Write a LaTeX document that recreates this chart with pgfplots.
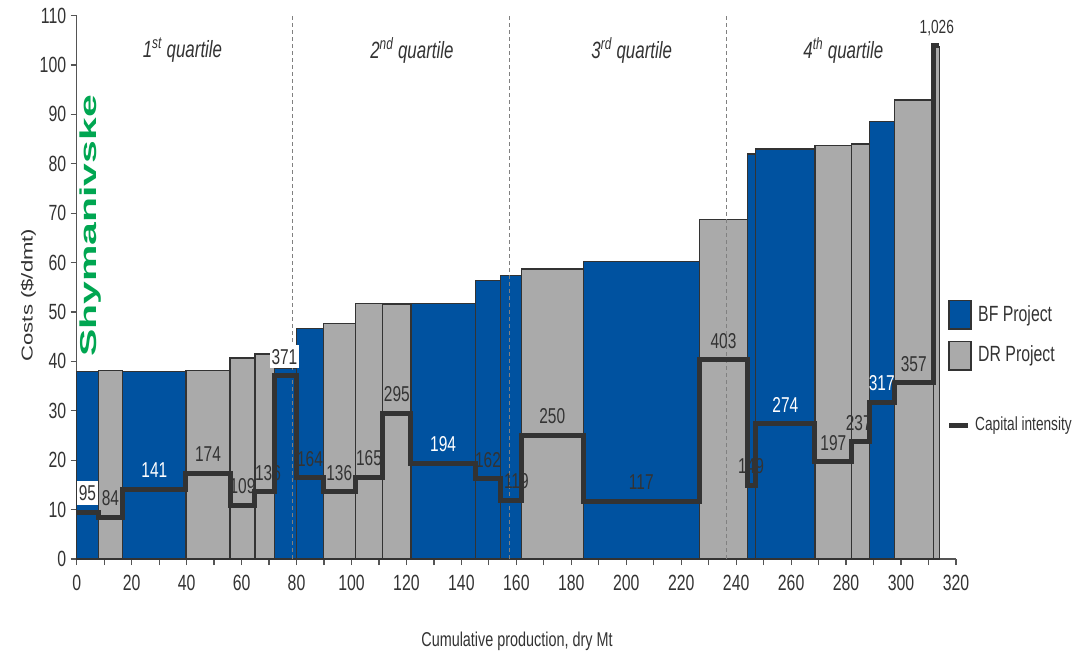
\documentclass[border=0pt]{standalone}
\usepackage{fontspec}
\setmainfont{Liberation Sans}[FakeStretch=0.72]
\newfontfamily\rotfont{Liberation Sans}[FakeStretch=1.4]
\newfontfamily\shymfont{Liberation Sans}[FakeStretch=1.78]
\usepackage{pgfplots}
\pgfplotsset{compat=1.18}

\definecolor{bfblue}{RGB}{0,82,160}
\definecolor{drgray}{RGB}{170,170,170}
\definecolor{edge}{RGB}{51,51,51}
\definecolor{txt}{RGB}{51,51,51}
\definecolor{axisgray}{RGB}{85,85,85}
\definecolor{shymgreen}{RGB}{0,166,81}

% one bar of the cost curve: [style]{x0}{x1}{cost}
\newcommand{\costbar}[4][bf]{\addplot[#1] coordinates {(#2,0) (#2,#4) (#3,#4) (#3,0)} -- cycle;}

\begin{document}
\begin{tikzpicture}
\useasboundingbox (0,0) rectangle (1075pt,656pt);

\begin{axis}[
  at={(76.7pt,97pt)}, anchor=south west,
  scale only axis, width=879.3pt, height=543.4pt,
  xmin=0, xmax=320, ymin=0, ymax=110,
  axis x line*=bottom, axis y line*=left,
  axis line style={draw=axisgray, line width=1.4pt, -},
  xtick={0,20,...,320}, minor xtick={10,30,...,310},
  ytick={0,10,...,110},
  tick align=outside, major tick length=6pt, minor tick length=6pt,
  every tick/.style={draw=axisgray, line width=1.2pt},
  every minor tick/.style={draw=axisgray, line width=1.2pt},
  /pgf/number format/assume math mode=true,
  tick label style={font=\fontsize{22}{22}\selectfont, text=txt},
  xticklabel style={yshift=-7pt},
  yticklabel style={xshift=-1pt},
  clip=false,
  bf/.style={fill=bfblue, draw=edge, line width=1.2pt},
  dr/.style={fill=drgray, draw=edge, line width=1.2pt},
]

% cost bars, x0 x1 cost
\costbar[bf]{0}{7.86}{37.9}
\costbar[dr]{7.86}{16.74}{38.2}
\costbar[bf]{16.74}{39.77}{38.0}
\costbar[dr]{39.77}{55.79}{38.2}
\costbar[dr]{55.79}{64.88}{40.7}
\costbar[dr]{64.88}{71.91}{41.5}
\costbar[bf]{71.91}{80.06}{38.5}
\costbar[bf]{80.06}{89.74}{46.6}
\costbar[dr]{89.74}{101.38}{47.6}
\costbar[dr]{101.38}{111.35}{51.7}
\costbar[dr]{111.35}{121.65}{51.6}
\costbar[bf]{121.65}{145.05}{51.8}
\costbar[bf]{145.05}{154.29}{56.3}
\costbar[bf]{154.29}{161.79}{57.4}
\costbar[dr]{161.79}{184.35}{58.7}
\costbar[bf]{184.35}{226.56}{60.2}
\costbar[dr]{226.56}{244.18}{68.7}
\costbar[bf]{244.18}{247.09}{82.0}
\costbar[bf]{247.09}{268.67}{83.0}
\costbar[dr]{268.67}{282.02}{83.7}
\costbar[dr]{282.02}{288.43}{84.0}
\costbar[bf]{288.43}{297.53}{88.5}
\costbar[dr]{297.53}{311.72}{92.9}
\costbar[dr]{311.72}{313.9}{103.8}

% quartile dividers
\addplot[draw=gray, line width=0.7pt, dash pattern=on 4pt off 3pt] coordinates {(78.6,0) (78.6,110)};
\addplot[draw=gray, line width=0.7pt, dash pattern=on 4pt off 3pt] coordinates {(157.5,0) (157.5,110)};
\addplot[draw=gray, line width=0.7pt, dash pattern=on 4pt off 3pt] coordinates {(236.6,0) (236.6,110)};

% capital intensity (per 10), step line
\addplot[const plot, draw=edge, line width=5pt, line join=miter] table {
x ci
0 9.5
7.86 8.4
16.74 14.1
39.77 17.4
55.79 10.9
64.88 13.6
71.91 37.1
80.06 16.4
89.74 13.6
101.38 16.5
111.35 29.5
121.65 19.4
145.05 16.2
154.29 11.9
161.79 25.0
184.35 11.7
226.56 40.3
244.18 14.9
247.09 27.4
268.67 19.7
282.02 23.7
288.43 31.7
297.53 35.7
311.72 104
313.9 104
};

% labels, dark
\addplot[draw=none, mark=none, nodes near coords, point meta=explicit symbolic,
  nodes near coords style={anchor=center, yshift=19pt, text=txt, font=\fontsize{21.5}{21.5}\selectfont, inner sep=1pt}]
  table[meta=lab] {
x y lab
12.30 8.4 84
47.78 17.4 174
60.34 10.9 109
69.6 13.6 136
84.9 16.4 164
95.56 13.6 136
106.37 16.5 165
116.5 29.5 295
149.67 16.2 162
160.0 11.9 119
173.07 25.0 250
205.46 11.7 117
235.37 40.3 403
245.4 14.9 149
275.35 19.7 197
284.6 23.7 237
304.63 35.7 357
};
% labels, white on blue
\addplot[draw=none, mark=none, nodes near coords, point meta=explicit symbolic,
  nodes near coords style={anchor=center, yshift=19pt, text=white, font=\fontsize{21.5}{21.5}\selectfont, inner sep=1pt}]
  table[meta=lab] {
x y lab
28.26 14.1 141
133.35 19.4 194
257.88 27.4 274
292.98 31.7 317
};
% labels in white boxes
\addplot[draw=none, mark=none, nodes near coords, point meta=explicit symbolic,
  nodes near coords style={anchor=center, yshift=19pt, text=txt, fill=white, font=\fontsize{21.5}{21.5}\selectfont, inner xsep=2pt, inner ysep=4pt}]
  table[meta=lab] {
x y lab
3.93 9.5 95
75.6 37.1 371
};
\addplot[draw=none, mark=none, nodes near coords, point meta=explicit symbolic,
  nodes near coords style={anchor=center, yshift=17pt, text=txt, font=\fontsize{19}{19}\selectfont, inner sep=1pt}]
  table[meta=lab] {
x y lab
313.0 104 1,026
};

\node[font=\itshape\fontsize{23.5}{23.5}\selectfont, text=txt] at (axis cs:38.5,103) {1\textsuperscript{st} quartile};
\node[font=\itshape\fontsize{23.5}{23.5}\selectfont, text=txt] at (axis cs:122,103) {2\textsuperscript{nd} quartile};
\node[font=\itshape\fontsize{23.5}{23.5}\selectfont, text=txt] at (axis cs:202,103) {3\textsuperscript{rd} quartile};
\node[font=\itshape\fontsize{23.5}{23.5}\selectfont, text=txt] at (axis cs:279,103) {4\textsuperscript{th} quartile};
\end{axis}

% titles and labels around the axis
\node[rotate=90, font=\shymfont\bfseries\fontsize{23}{23}\selectfont, text=shymgreen] at (90.5pt,430pt) {Shymanivske};
\node[rotate=90, font=\rotfont\fontsize{15.8}{15.8}\selectfont, text=txt] at (28.3pt,361pt) {Costs (\$/dmt)};
\node[font=\fontsize{20}{20}\selectfont, text=txt] at (517pt,15pt) {Cumulative production, dry Mt};

% legend
\filldraw[fill=bfblue, draw=edge, line width=1.2pt] (949pt,327pt) rectangle (971pt,355.3pt);
\filldraw[fill=drgray, draw=edge, line width=1.2pt] (949pt,286pt) rectangle (971pt,314.3pt);
\node[anchor=west, inner sep=0pt, font=\fontsize{22}{22}\selectfont, text=txt] at (978pt,340pt) {BF Project};
\node[anchor=west, inner sep=0pt, font=\fontsize{22}{22}\selectfont, text=txt] at (978pt,300pt) {DR Project};
\draw[draw=edge, line width=5pt] (949pt,230.3pt) -- (968pt,230.3pt);
\node[anchor=west, inner sep=0pt, font=\fontsize{19}{19}\selectfont, text=txt] at (975pt,230pt) {Capital intensity};
\end{tikzpicture}
\end{document}
